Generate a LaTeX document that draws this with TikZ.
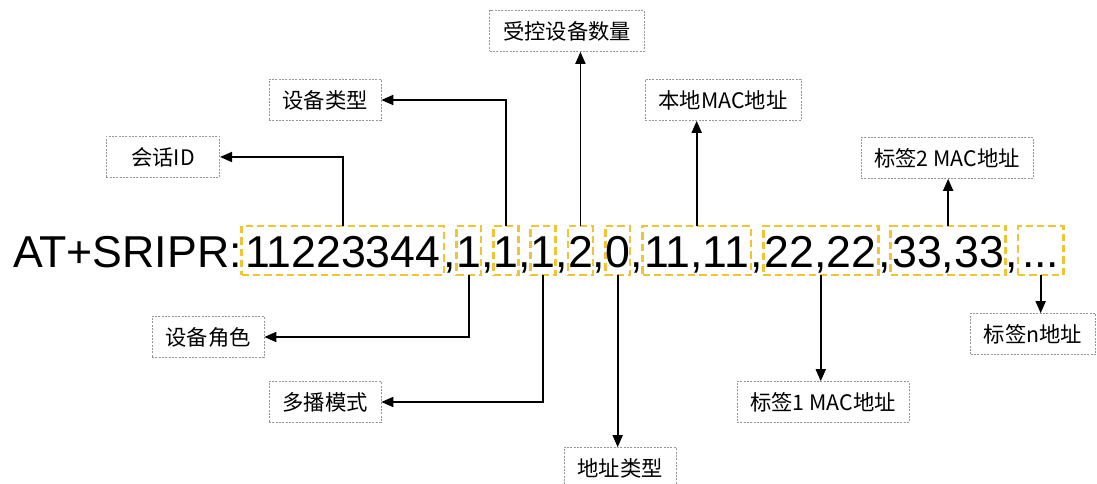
\documentclass[tikz,border=0pt]{standalone}
\usepackage{fontspec}
\usetikzlibrary{arrows.meta}
\newfontfamily\arialfont{Liberation Sans}
\newfontfamily\cjk{Noto Sans CJK SC}
\definecolor{fieldyellow}{RGB}{243,196,50}
\definecolor{boxgray}{RGB}{150,150,150}

\tikzset{
  field/.style={draw=fieldyellow, line width=2pt, dash pattern=on 5.5pt off 3pt, outer sep=0pt,
    inner xsep=0pt, inner ysep=0pt, text height=31.5pt, text depth=5.25pt, anchor=base west},
  sepchar/.style={inner sep=0pt, outer sep=0pt, anchor=base west},
  namebox/.style={draw=boxgray, line width=0.5pt, dash pattern=on 1.5pt off 1pt,
    inner xsep=10pt, minimum height=30.75pt, font=\cjk\fontsize{16}{18}\selectfont},
  conn/.style={line width=1.3pt, -{Triangle[length=9pt,width=7.5pt]}}
}

\begin{document}
\begin{tikzpicture}[x=0.75pt,y=-0.75pt,font=\arialfont\fontsize{33.5}{40}\selectfont]
\useasboundingbox (0,0) rectangle (1097,484);

% command string:
\node[sepchar] (head) at (13,268) {AT+SRIPR:};
\node[field, inner xsep=2.5pt] (f1) at (head.base east) {11223344};
\node[sepchar] (c1) at (f1.base east) {,};
\node[field] (f2) at (c1.base east) {1};
\node[sepchar] (c2) at (f2.base east) {,};
\node[field] (f3) at (c2.base east) {1};
\node[sepchar] (c3) at (f3.base east) {,};
\node[field] (f4) at (c3.base east) {1};
\node[sepchar] (c4) at (f4.base east) {,};
\node[field] (f5) at (c4.base east) {2};
\node[sepchar] (c5) at (f5.base east) {,};
\node[field] (f6) at (c5.base east) {0};
\node[sepchar] (c6) at (f6.base east) {,};
\node[field, inner xsep=1.2pt] (f7) at (c6.base east) {11,11};
\node[sepchar] (c7) at (f7.base east) {,};
\node[field, inner xsep=1.2pt] (f8) at (c7.base east) {22,22};
\node[sepchar] (c8) at (f8.base east) {,};
\node[field, inner xsep=1.2pt] (f9) at (c8.base east) {33,33};
\node[sepchar] (c9) at (f9.base east) {,};
\node[field, inner xsep=3pt] (f10) at (c9.base east) {...};

% names above:
\node[namebox, minimum width=85pt] (session) at (163,157) {会话ID};
\node[namebox] (devtype) at (325,100) {设备类型};
\node[namebox] (count) at (567,31) {受控设备数量};
\node[namebox] (localmac) at (723,100) {本地MAC地址};
\node[namebox] (tag2) at (947,158) {标签2 MAC地址};

% names below:
\node[namebox] (role) at (208,337) {设备角色};
\node[namebox] (mcast) at (325,402) {多播模式};
\node[namebox] (addrtype) at (620,468) {地址类型};
\node[namebox] (tag1) at (823,402) {标签1 MAC地址};
\node[namebox] (tagn) at (1033,334) {标签n地址};

\draw[conn] (f1.north) |- (session.east);
\draw[conn] (f3.north) |- (devtype.east);
\draw[conn] (f5.north) -- (f5.north |- count.south);
\draw[conn] (f7.north) -- (f7.north |- localmac.south);
\draw[conn] (f9.north) -- (f9.north |- tag2.south);

\draw[conn] (f2.south) |- (role.east);
\draw[conn] (f4.south) |- (mcast.east);
\draw[conn] (f6.south) -- (f6.south |- addrtype.north);
\draw[conn] (f8.south) -- (f8.south |- tag1.north);
\draw[conn] (f10.south) -- (f10.south |- tagn.north);

\end{tikzpicture}
\end{document}
